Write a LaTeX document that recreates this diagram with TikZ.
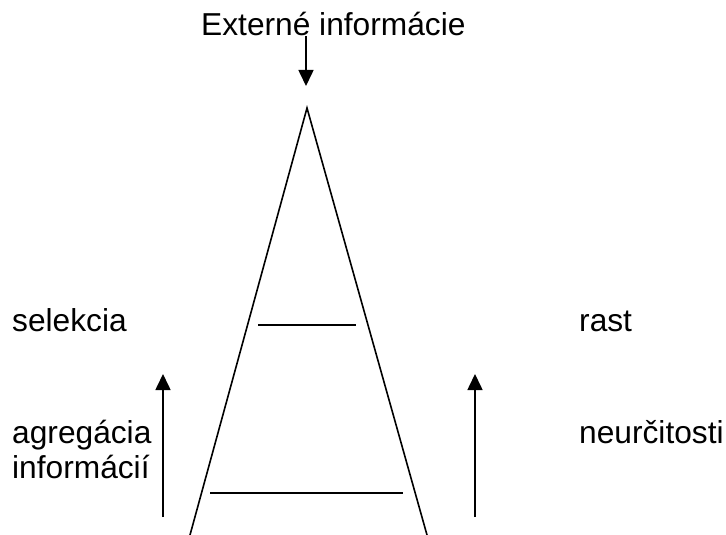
\documentclass[tikz,border=0pt]{standalone}
\usepackage{fontspec}
\setmainfont{Liberation Sans}
\usepackage{tikz}
\usetikzlibrary{arrows.meta}
\tikzset{
  txt/.style  = {anchor=base west, inner sep=0pt, font=\fontsize{31.7}{36}\selectfont},
  rim/.style  = {line width=1.6pt, line cap=butt},
  flow/.style = {rim, -{Triangle[length=16pt,width=15pt]}},
}

\begin{document}
\begin{tikzpicture}[x=1pt,y=-1pt]
\useasboundingbox (0,0) rectangle (726,535);
\node [txt] (ext) at (201,36) {Externé informácie};
\node [txt] (sel) at (12,331) {selekcia};
\node [txt] (agr) at (12,443) {agregácia};
\node [txt] (inf) at (12,478) {informácií};
\node [txt] (ras) at (579,331) {rast};
\node [txt] (neu) at (579,443) {neurčitosti};
% triangle
\coordinate (apex) at (307,108);
\coordinate (botL) at (190,535);
\coordinate (botR) at (427,535);
\draw [rim] (botL) -- (apex) -- (botR);
\draw [rim] (258,325) -- (356,325);
\draw [rim] (210,493) -- (403,493);
% arrows
\coordinate (tip) at (306,86);
\draw [flow] (ext.base -| tip) -- (tip);
\coordinate (aL0) at (163,517);
\coordinate (aL1) at (163,374);
\coordinate (aR0) at (475,517);
\coordinate (aR1) at (475,374);
\draw [flow] (aL0) -- (aL1);
\draw [flow] (aR0) -- (aR1);
\end{tikzpicture}
\end{document}
